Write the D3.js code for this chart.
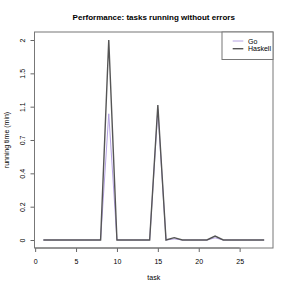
<!DOCTYPE html>
<html>
<head>
<meta charset="utf-8">
<script src="https://cdn.jsdelivr.net/npm/d3@7"></script>
<style>
  body { margin: 0; background: #fff; }
  text { font-family: "Liberation Sans", Arial, sans-serif; fill: #000; }
</style>
</head>
<body>
<div id="chart"></div>
<script>
const tasks = d3.range(1, 29);
const goTimes = [0, 0, 0, 0, 0, 0, 0, 0, 1.0, 0, 0, 0, 0, 0, 1.05, 0, 0.006, 0, 0, 0, 0, 0.012, 0, 0, 0, 0, 0, 0];
const haskellTimes = [0, 0, 0, 0, 0, 0, 0, 0, 2.0, 0, 0, 0, 0, 0, 1.1, 0, 0.013, 0, 0, 0, 0, 0.022, 0, 0, 0, 0, 0, 0];
const seriesNames = ['Go', 'Haskell'];
const seriesColors = ['#b4a2e2', '#555555'];
const xTicks = [0, 5, 10, 15, 20, 25];
const yTickValues = [0, 0.2009, 0.4422, 0.7321, 1.0801, 1.4979, 2];
const yTickLabels = ['0', '0.2', '0.4', '0.7', '1.1', '1.5', '2'];

const W = 291, H = 291;
const box = {left: 34.5, top: 32, right: 273, bottom: 248};
const padX = (box.right - box.left) * 0.04 / 1.08;
const padY = (box.bottom - box.top) * 0.04 / 1.08;

const svg = d3.select('#chart').append('svg')
  .attr('width', W).attr('height', H);

const x = d3.scaleLinear()
  .domain([1, 28])
  .range([box.left + padX, box.right - padX]);
const y = d3.scaleSymlog().constant(1)
  .domain([0, 2])
  .range([box.bottom - padY, box.top + padY]);

// title
svg.append('text')
  .attr('x', (box.left + box.right) / 2).attr('y', 19.5)
  .attr('text-anchor', 'middle')
  .style('font-size', '8px').style('font-weight', 'bold')
  .text('Performance: tasks running without errors');

// x axis
const gx = svg.append('g').attr('transform', `translate(0, ${box.bottom})`);
gx.call(d3.axisBottom(x).tickValues(xTicks).tickSize(4).tickPadding(7))
  .call(g => g.select('.domain').attr('d', `M${x(0)},0H${x(25)}`).attr('stroke', '#666'));
gx.selectAll('.tick line').attr('stroke', '#666');
gx.selectAll('.tick text').style('font-size', '7px').style('font-family', '"Liberation Sans", Arial, sans-serif');

// y axis
const gy = svg.append('g').attr('transform', `translate(${box.left}, 0)`);
gy.call(d3.axisLeft(y).tickValues(yTickValues).tickFormat((d, i) => yTickLabels[i]).tickSize(4))
  .call(g => g.select('.domain').remove());
gy.selectAll('.tick line').attr('stroke', '#666');
gy.selectAll('.tick text')
  .attr('x', null).attr('dy', null)
  .attr('text-anchor', 'middle')
  .attr('transform', 'translate(-9.5, 0) rotate(-90)')
  .style('font-size', '7px').style('font-family', '"Liberation Sans", Arial, sans-serif');

// axis titles
svg.append('text')
  .attr('x', (box.left + box.right) / 2).attr('y', 279.5)
  .attr('text-anchor', 'middle').style('font-size', '7px')
  .text('task');
svg.append('text')
  .attr('transform', `translate(8.5, ${(box.top + box.bottom) / 2}) rotate(-90)`)
  .attr('text-anchor', 'middle').style('font-size', '7px')
  .text('running time (min)');

// lines
const line = d3.line().x((d, i) => x(tasks[i])).y(d => y(d));
[goTimes, haskellTimes].forEach((s, k) => {
  svg.append('path')
    .datum(s)
    .attr('d', line)
    .attr('fill', 'none')
    .attr('stroke', seriesColors[k])
    .attr('stroke-width', k === 0 ? 1 : 1.4)
    .attr('stroke-linejoin', 'miter');
});

// box
svg.append('rect')
  .attr('x', box.left).attr('y', box.top)
  .attr('width', box.right - box.left).attr('height', box.bottom - box.top)
  .attr('fill', 'none').attr('stroke', '#777').attr('stroke-width', 1);

// legend
const lg = svg.append('g');
lg.append('rect')
  .attr('x', 222).attr('y', box.top)
  .attr('width', box.right - 222).attr('height', 27.5)
  .attr('fill', '#fff').attr('stroke', '#777').attr('stroke-width', 1);
seriesNames.forEach((name, i) => {
  const yy = 41 + i * 7.7;
  lg.append('line')
    .attr('x1', 232.7).attr('x2', 243.3).attr('y1', yy).attr('y2', yy)
    .attr('stroke', seriesColors[i]).attr('stroke-width', i === 0 ? 1 : 1.4);
  lg.append('text')
    .attr('x', 248).attr('y', yy + 2.5)
    .style('font-size', '7px')
    .text(name);
});
</script>
</body>
</html>
